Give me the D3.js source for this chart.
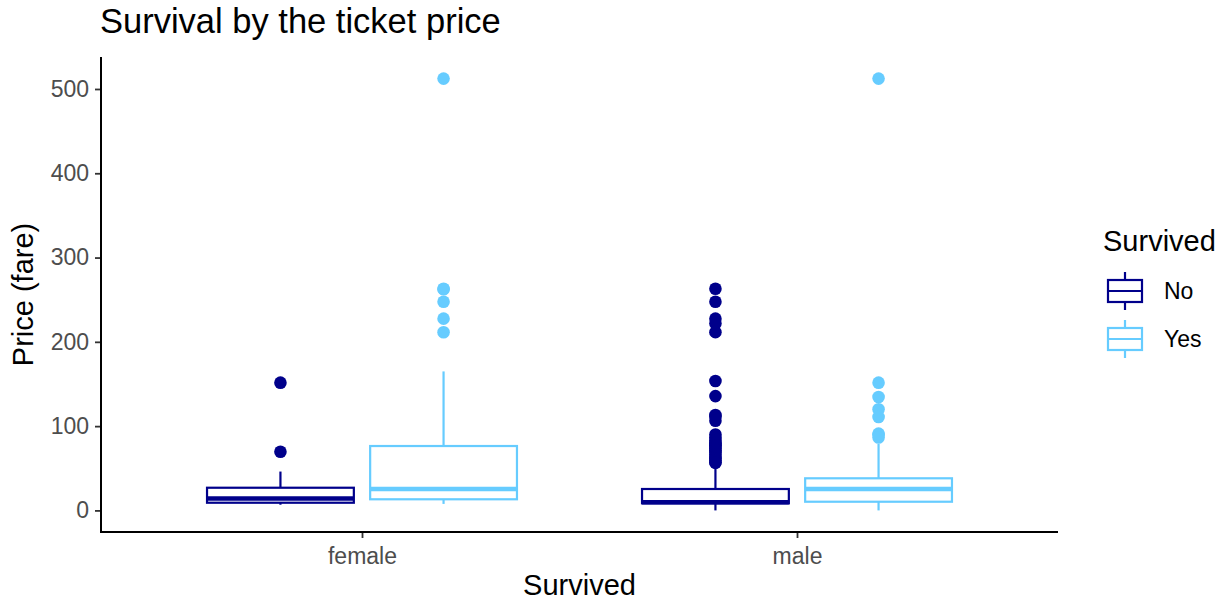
<!DOCTYPE html>
<html>
<head>
<meta charset="utf-8">
<script src="https://cdn.jsdelivr.net/npm/d3@7"></script>
<style>
  body { margin: 0; background: #fff; }
  svg { font-family: "Liberation Sans", Arial, sans-serif; }
</style>
</head>
<body>
<svg id="chart" width="1225" height="602"></svg>
<script>
// categories
const sexes = ["female", "male"];
const groups = ["No", "Yes"];
const colors = ["#00008B", "#66CCFF"];

// box statistics, one entry per sex x survived (female No, female Yes, male No, male Yes)
const boxSex = ["female", "female", "male", "male"];
const boxGroup = ["No", "Yes", "No", "Yes"];
const whiskerLo = [6.75, 7.7, 0, 0];
const q1 = [9.1, 13.2, 8.4, 10.3];
const median = [14.2, 25.4, 9.6, 25.4];
const q3 = [26.9, 76.4, 25.4, 38.1];
const whiskerHi = [46.1, 164.9, 52, 79];

// outliers per box
const outliers = [
  [151.55, 69.55],
  [512.33, 263, 262.38, 247.52, 227.53, 211.34],
  [263, 247.52, 227.53, 221.78, 211.5, 153.46, 135.63, 113.28, 110.88, 106.43,
   90, 86.5, 83.16, 80, 79.2, 77.29, 75.25, 73.5, 71, 69.3, 66.6, 63.36, 61.18,
   59.4, 57, 56.5],
  [512.33, 151.55, 134.5, 120, 110.88, 91.08, 90, 86.5]
];

const yTicks = [0, 100, 200, 300, 400, 500];

const svg = d3.select("#chart");
const panel = { left: 101, right: 1058, top: 57, bottom: 532 };

const allVals = whiskerLo.concat(...outliers, whiskerHi);
const yMin = d3.min(allVals), yMax = d3.max(allVals);
const pad = (yMax - yMin) * 0.05;
const y = d3.scaleLinear()
  .domain([yMin - pad, yMax + pad])
  .range([panel.bottom, panel.top]);

const x = d3.scalePoint()
  .domain(sexes)
  .range([panel.left, panel.right])
  .padding(0.6);
const step = x.step();
const xg = d3.scaleBand()
  .domain(groups)
  .range([-0.375 * step, 0.375 * step]);
const boxW = xg.bandwidth() * 0.9;
const color = d3.scaleOrdinal().domain(groups).range(colors);

const boxes = boxSex.map((s, i) => ({
  sex: s, group: boxGroup[i], lo: whiskerLo[i], q1: q1[i], med: median[i],
  q3: q3[i], hi: whiskerHi[i], out: outliers[i],
  cx: x(s) + xg(boxGroup[i]) + xg.bandwidth() / 2
}));

const g = svg.append("g");
const bx = g.selectAll("g.box").data(boxes).join("g").attr("class", "box");

bx.append("line")
  .attr("x1", d => d.cx).attr("x2", d => d.cx)
  .attr("y1", d => y(d.q3)).attr("y2", d => y(d.hi))
  .attr("stroke", d => color(d.group)).attr("stroke-width", 2.2);
bx.append("line")
  .attr("x1", d => d.cx).attr("x2", d => d.cx)
  .attr("y1", d => y(d.q1)).attr("y2", d => y(d.lo))
  .attr("stroke", d => color(d.group)).attr("stroke-width", 2.2);
bx.append("rect")
  .attr("x", d => d.cx - boxW / 2).attr("width", boxW)
  .attr("y", d => y(d.q3)).attr("height", d => y(d.q1) - y(d.q3))
  .attr("fill", "white")
  .attr("stroke", d => color(d.group)).attr("stroke-width", 2.2);
bx.append("line")
  .attr("x1", d => d.cx - boxW / 2).attr("x2", d => d.cx + boxW / 2)
  .attr("y1", d => y(d.med)).attr("y2", d => y(d.med))
  .attr("stroke", d => color(d.group)).attr("stroke-width", 4.5);
bx.selectAll("circle")
  .data(d => d.out.map(v => ({ v, cx: d.cx, group: d.group })))
  .join("circle")
  .attr("cx", d => d.cx).attr("cy", d => y(d.v)).attr("r", 6.3)
  .attr("fill", d => color(d.group));

// axes
const yAxis = g.append("g")
  .attr("transform", `translate(${panel.left},0)`)
  .call(d3.axisLeft(y).tickValues(yTicks).tickSize(6).tickPadding(6));
const xAxis = g.append("g")
  .attr("transform", `translate(0,${panel.bottom})`)
  .call(d3.axisBottom(x).tickSize(6).tickPadding(10));
[yAxis, xAxis].forEach(a => {
  a.select(".domain").remove();
  a.selectAll(".tick line").attr("stroke", "#333").attr("stroke-width", 1.8);
  a.selectAll(".tick text").attr("fill", "#4D4D4D").style("font-size", "23px");
});
g.append("line")
  .attr("x1", panel.left).attr("x2", panel.left)
  .attr("y1", panel.top).attr("y2", panel.bottom + 1)
  .attr("stroke", "black").attr("stroke-width", 2);
g.append("line")
  .attr("x1", panel.left - 1).attr("x2", panel.right)
  .attr("y1", panel.bottom).attr("y2", panel.bottom)
  .attr("stroke", "black").attr("stroke-width", 2);

// titles
svg.append("text").attr("x", 100).attr("y", 33)
  .style("font-size", "34.5px").text("Survival by the ticket price");
svg.append("text").attr("x", (panel.left + panel.right) / 2).attr("y", 595)
  .attr("text-anchor", "middle").style("font-size", "29px").text("Survived");
svg.append("text")
  .attr("transform", `translate(33,${(panel.top + panel.bottom) / 2}) rotate(-90)`)
  .attr("text-anchor", "middle").style("font-size", "29px").text("Price (fare)");

// legend
const lg = svg.append("g");
lg.append("text").attr("x", 1103).attr("y", 251)
  .style("font-size", "29px").text("Survived");
const keys = lg.selectAll("g.key").data(groups).join("g")
  .attr("class", "key")
  .attr("transform", (d, i) => `translate(1125,${291 + i * 48})`);
keys.append("line").attr("y1", -19).attr("y2", 19)
  .attr("stroke", d => color(d)).attr("stroke-width", 2.2);
keys.append("rect").attr("x", -17).attr("width", 34).attr("y", -11).attr("height", 22)
  .attr("fill", "white").attr("stroke", d => color(d)).attr("stroke-width", 2.2);
keys.append("line").attr("x1", -17).attr("x2", 17)
  .attr("stroke", d => color(d)).attr("stroke-width", 2.2);
keys.append("text").attr("x", 39).attr("dy", "0.35em")
  .style("font-size", "23px").text(d => d);
</script>
</body>
</html>
